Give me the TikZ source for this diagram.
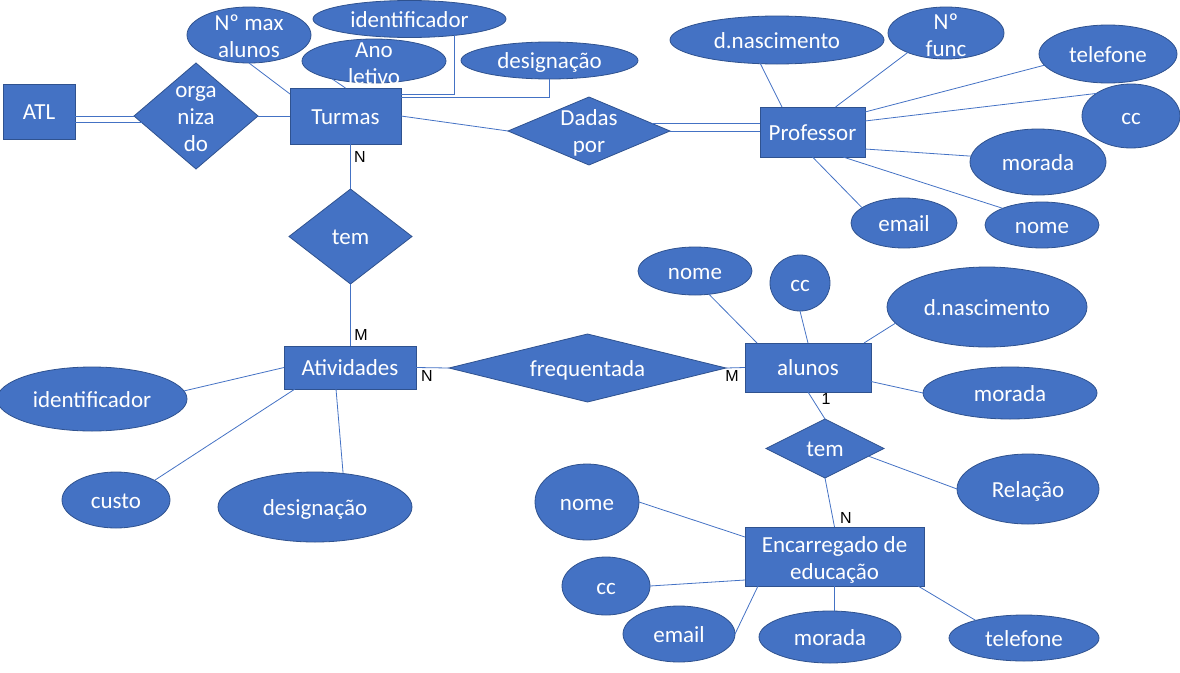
\documentclass[tikz,border=0pt]{standalone}
\usepackage{fontspec}
\setmainfont{Carlito}
\newfontfamily\cardfont{Liberation Sans}
\usetikzlibrary{shapes.geometric,calc}
\definecolor{ofblue}{HTML}{4472C4}
\definecolor{ofdark}{HTML}{2F528F}
\begin{document}
\begin{tikzpicture}[x=1pt,y=-1pt,
  base/.style={fill=ofblue,draw=ofdark,line width=0.8pt,inner sep=0pt,outer sep=0pt},
  ent/.style={base,rectangle},
  att/.style={base,ellipse},
  rel/.style={base,diamond},
  tx/.style={text=white,font=\fontsize{23}{27}\selectfont,inner sep=0pt,text height=15pt,text depth=5pt,yshift=-3pt},
  txm/.style={text=white,font=\fontsize{23}{27}\selectfont,inner sep=0pt,align=center,yshift=-2pt},
  conn/.style={draw=ofblue,line width=0.8pt},
  card/.style={font=\cardfont\fontsize{16}{18}\selectfont,text=black,inner sep=0pt}]
\useasboundingbox (0,0) rectangle (1180,672);

% ---------- entities ----------
\node[ent,minimum width=72,minimum height=55,label={[tx]center:ATL}] (atl) at (39,111.5) {};
\node[ent,minimum width=111,minimum height=56,label={[tx]center:Turmas}] (turmas) at (345.5,116) {};
\node[ent,minimum width=105,minimum height=50,label={[tx]center:Professor}] (prof) at (812.5,132) {};
\node[ent,minimum width=132,minimum height=43,label={[tx]center:Atividades}] (ativ) at (350,367.5) {};
\node[ent,minimum width=126,minimum height=49,label={[tx]center:alunos}] (alunos) at (808,367.5) {};
\node[ent,minimum width=179,minimum height=59,label={[txm,yshift=-1pt]center:Encarregado de\\educação}] (ee) at (834.5,556.5) {};

% ---------- relationships ----------
\node[rel,minimum width=124,minimum height=106,label={[txm,yshift=-1pt]center:orga\\niza\\do}] (org) at (196,116) {};
\node[rel,minimum width=162,minimum height=68,label={[txm]center:Dadas\\por}] (dadas) at (589,131) {};
\node[rel,minimum width=123,minimum height=95,label={[tx]center:tem}] (tem1) at (350.5,236.5) {};
\node[rel,minimum width=277,minimum height=68,label={[tx]center:frequentada}] (freq) at (587.5,368) {};
\node[rel,minimum width=118,minimum height=59,label={[tx]center:tem}] (tem2) at (825,448.5) {};

% ---------- attributes ----------
\node[att,minimum width=124,minimum height=56,label={[txm,yshift=1pt]center:Nº max\\alunos}] (maxal) at (249,35) {};
\node[att,minimum width=193,minimum height=37,label={[tx]center:identificador}] (ident1) at (409.5,19) {};
\node[att,minimum width=144,minimum height=44,label={[txm,yshift=-1pt]center:Ano\\letivo}] (anolet) at (374,61) {};
\node[att,minimum width=177,minimum height=37,label={[tx]center:designação}] (desig1) at (549.5,60.5) {};

\node[att,minimum width=214,minimum height=48,label={[tx]center:d.nascimento}] (dnascP) at (777,40) {};
\node[att,minimum width=116,minimum height=52,label={[txm]center:Nº\\func}] (nfunc) at (946,33) {};
\node[att,minimum width=138,minimum height=58,label={[tx]center:telefone}] (teleP) at (1108,54) {};
\node[att,minimum width=98,minimum height=64,label={[tx]center:cc}] (ccP) at (1131,116) {};
\node[att,minimum width=136,minimum height=66,label={[tx]center:morada}] (moradaP) at (1038,162) {};
\node[att,minimum width=114,minimum height=46,label={[tx]center:nome}] (nomeP) at (1042,225) {};
\node[att,minimum width=106,minimum height=50,label={[tx]center:email}] (emailP) at (904,223) {};

\node[att,minimum width=114,minimum height=48,label={[tx]center:nome}] (nomeA) at (695,271) {};
\node[att,minimum width=60,minimum height=56,label={[tx]center:cc}] (ccA) at (800,283) {};
\node[att,minimum width=200,minimum height=80,label={[tx]center:d.nascimento}] (dnascA) at (987,307) {};
\node[att,minimum width=174,minimum height=52,label={[tx]center:morada}] (moradaA) at (1010,393) {};

\node[att,minimum width=190,minimum height=64,label={[tx]center:identificador}] (identA) at (92,399) {};
\node[att,minimum width=108,minimum height=56,label={[tx]center:custo}] (custo) at (116,500) {};
\node[att,minimum width=194,minimum height=70,label={[tx]center:designação}] (desigA) at (315,507) {};

\node[att,minimum width=142,minimum height=70,label={[tx]center:Relação}] (relacao) at (1028,489) {};
\node[att,minimum width=104,minimum height=76,label={[tx]center:nome}] (nomeE) at (587,502) {};
\node[att,minimum width=88,minimum height=58,label={[tx]center:cc}] (ccE) at (606,586) {};
\node[att,minimum width=112,minimum height=56,label={[tx]center:email}] (emailE) at (679,634) {};
\node[att,minimum width=142,minimum height=52,label={[tx]center:morada}] (moradaE) at (830,637) {};
\node[att,minimum width=150,minimum height=46,label={[tx]center:telefone}] (teleE) at (1024,638) {};

% ---------- connectors ----------
% ATL = organizado (double)
\draw[conn] (org.west) -- (org.west -| atl.east);
\draw[conn] (org.187) -- (org.187 -| atl.east);
\draw[conn] (org.east) -- (org.east -| turmas.west);
% Turmas attributes
\draw[conn] (maxal.south) -- ([yshift=-6pt]turmas.north west);
\draw[conn] (anolet.203) -- (turmas.north);
\draw[conn] (ident1.340) |- ([yshift=-6pt]turmas.north east);
\draw[conn] (desig1.south) |- ([yshift=-9pt]turmas.north east);
% Turmas - Dadas por = Professor
\draw[conn] (turmas.east) -- (dadas.west);
\draw[conn] (dadas.7) -- (dadas.7 -| prof.west);
\draw[conn] (dadas.east) -- (dadas.east -| prof.west);
% Professor attributes
\draw[conn] (dnascP.235) -- ([xshift=22pt]prof.north west);
\draw[conn] (nfunc.207) -- ([xshift=23pt]prof.north);
\draw[conn] (teleP.190) -- ([yshift=-5pt]prof.north east);
\draw[conn] (ccP.147) -- ([yshift=-14pt]prof.north east);
\draw[conn] (moradaP.175) -- ([yshift=8pt]prof.south east);
\draw[conn] (nomeP.157) -- ([xshift=-22pt]prof.south east);
\draw[conn] (emailP.160) -- (prof.south);
% Turmas - tem - Atividades
\draw[conn] (tem1.north |- turmas.south) -- (tem1.north);
\draw[conn] (tem1.south) -- (tem1.south |- ativ.north);
% Atividades attributes
\draw[conn] (identA.5) -- (ativ.west);
\draw[conn] (custo.27) -- ([xshift=11pt]ativ.south west);
\draw[conn] (desigA.50) -- ([xshift=-14pt]ativ.south);
% Atividades - frequentada - alunos
\draw[conn] (ativ.east) -- (freq.west);
\draw[conn] (freq.east) -- (alunos.west);
% alunos attributes
\draw[conn] (nomeA.301) -- ([xshift=12pt]alunos.north west);
\draw[conn] (ccA.south) -- (alunos.north);
\draw[conn] (dnascA.190) -- ([xshift=-7pt]alunos.north east);
\draw[conn] (moradaA.west) -- ([yshift=-14pt]alunos.east);
% alunos - tem - Encarregado
\draw[conn] (alunos.south) -- (tem2.north);
\draw[conn] (tem2.350) -- (relacao.west);
\draw[conn] (tem2.south) -- (ee.north);
% Encarregado attributes
\draw[conn] (nomeE.east) -- ([yshift=-10pt]ee.north west);
\draw[conn] (ccE.east) -- ([yshift=6pt]ee.south west);
\draw[conn] (emailE.east) -- ([xshift=13pt]ee.south west);
\draw[conn] (moradaE.80) -- (ee.south);
\draw[conn] (teleE.160) -- ([xshift=-6pt]ee.south east);

% ---------- cardinalities ----------
\node[card] (c1) at (360,157) {N};
\node[card] (c2) at (361,335) {M};
\node[card] (c3) at (427,376) {N};
\node[card] (c4) at (732,376) {M};
\node[card] (c5) at (826,399) {1};
\node[card] (c6) at (846,518) {N};
\end{tikzpicture}
\end{document}
